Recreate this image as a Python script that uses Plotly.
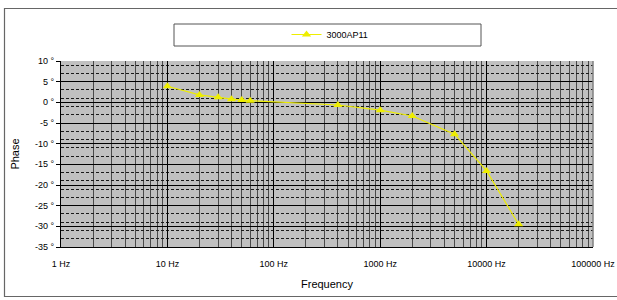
import plotly.graph_objects as go

# ---- data ----
freq_hz = [10, 20, 30, 40, 50, 60, 400, 1000, 2000, 5000, 10000, 20000]
phase_deg = [3.9, 1.8, 1.2, 0.75, 0.55, 0.4, -0.65, -1.9, -3.3, -7.7, -16.6, -29.5]
series_name = "3000AP11"

x_tick_vals = [1, 10, 100, 1000, 10000, 100000]
x_tick_text = ["1 Hz", "10 Hz", "100 Hz", "1000 Hz", "10000 Hz", "100000 Hz"]
y_tick_vals = [10, 5, 0, -5, -10, -15, -20, -25, -30, -35]
y_tick_text = [f"{v} °" for v in y_tick_vals]

W, H = 617, 300
L, R, T, B = 61, 593, 61, 247  # plot area pixels


def px(x):
    return (x - L) / (R - L)


def py(y):
    return (B - y) / (B - T)


FONT = "Liberation Sans, Arial, sans-serif"

fig = go.Figure()
fig.add_trace(go.Scatter(
    x=freq_hz, y=phase_deg, name=series_name, mode="lines+markers",
    line=dict(color="#EEEE00", width=1.2),
    marker=dict(symbol="triangle-up", size=8, color="#EEEE00"),
))

fig.update_layout(
    width=W, height=H,
    margin=dict(l=L, r=W - R, t=T, b=H - B, pad=0, autoexpand=False),
    paper_bgcolor="white",
    plot_bgcolor="#C0C0C0",
    font=dict(family=FONT, size=9, color="black"),
    showlegend=True,
    legend=dict(
        x=px(330), y=py(34.5), xanchor="center", yanchor="middle",
        orientation="h", bgcolor="rgba(0,0,0,0)", borderwidth=0,
        font=dict(size=9, family=FONT), itemwidth=30,
    ),
    xaxis=dict(
        type="log", range=[0, 5], automargin=False,
        tickvals=x_tick_vals, ticktext=x_tick_text,
        showgrid=True, gridcolor="black", gridwidth=1,
        minor=dict(dtick="D1", showgrid=True, gridcolor="#4a4a4a", gridwidth=1, ticks=""),
        showline=True, linecolor="black", linewidth=1,
        ticks="outside", ticklen=8, tickcolor="rgba(0,0,0,0)", zeroline=False,
        tickfont=dict(size=9, family=FONT),
        title=dict(text="Frequency", font=dict(size=11, family=FONT), standoff=12),
    ),
    yaxis=dict(
        range=[-35, 10], automargin=False,
        tickvals=y_tick_vals, ticktext=y_tick_text,
        showgrid=True, gridcolor="black", gridwidth=1,
        minor=dict(tick0=-35, dtick=2, showgrid=True, gridcolor="#1a1a1a",
                   griddash="3px,2px", gridwidth=1, ticks=""),
        showline=True, linecolor="black", linewidth=1,
        ticks="outside", ticklen=4, tickcolor="black",
        zeroline=False,
        tickfont=dict(size=9, family=FONT),
        title=dict(text="Phase", font=dict(size=11, family=FONT), standoff=13),
    ),
    shapes=[
        # plot area right border
        dict(type="line", xref="paper", yref="paper", x0=1, x1=1, y0=0, y1=1,
             line=dict(color="#808080", width=1.5)),
        # legend box
        dict(type="rect", xref="paper", yref="paper",
             x0=px(174), x1=px(481), y0=py(24), y1=py(46),
             line=dict(color="#555555", width=1), fillcolor="white", layer="below"),
        # chart area border
        dict(type="rect", xref="paper", yref="paper",
             x0=px(4.5), x1=px(640), y0=py(8.5), y1=py(296.5),
             line=dict(color="#666666", width=1.2), fillcolor="rgba(0,0,0,0)"),
    ],
)

fig.write_html("out.html", config={"displayModeBar": False},
               post_script="document.body.style.margin='0';")
